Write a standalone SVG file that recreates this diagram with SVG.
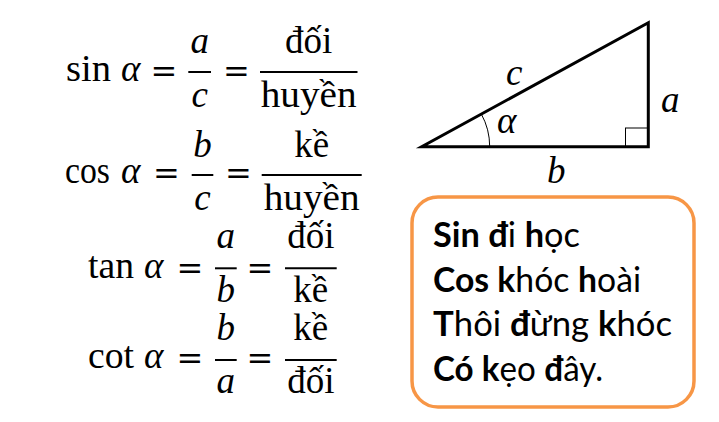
<svg xmlns="http://www.w3.org/2000/svg" width="719" height="422" viewBox="0 0 719 422">
<style>
.m{font-family:"Liberation Serif","DejaVu Serif",serif;font-size:37px;fill:#000}
.i{font-family:"Liberation Serif","DejaVu Serif",serif;font-style:italic;font-size:37px;fill:#000}
.e{font-family:"DejaVu Serif","Liberation Serif",serif;font-size:32px;fill:#000;text-anchor:middle}
.c{text-anchor:middle}
.bar{stroke:#000;stroke-width:2}
.mn{font-family:Lato,"Open Sans",sans-serif;font-size:34px;fill:#000}
.b{font-weight:bold}
</style>
<rect width="719" height="422" fill="#fff"/>

<g id="formula-sin">
<text class="m" x="66" y="81" textLength="45" lengthAdjust="spacingAndGlyphs">sin</text>
<text class="i" x="121" y="81">α</text>
<text class="e" x="164" y="82">=</text>
<text class="i c" x="199.7" y="53.3">a</text>
<line class="bar" x1="188.3" y1="72" x2="211" y2="72"/>
<text class="i c" x="199.7" y="106.7">c</text>
<text class="e" x="236.5" y="82">=</text>
<text class="m c" x="308.7" y="53.3">đối</text>
<line class="bar" x1="260" y1="72" x2="357.5" y2="72"/>
<text class="m c" x="308.7" y="106.7" textLength="96" lengthAdjust="spacingAndGlyphs">huyền</text>
</g>

<g id="formula-cos">
<text class="m" x="65" y="183" textLength="45" lengthAdjust="spacingAndGlyphs">cos</text>
<text class="i" x="121" y="183">α</text>
<text class="e" x="166.5" y="184">=</text>
<text class="i c" x="202.5" y="156.7">b</text>
<line class="bar" x1="191.7" y1="175" x2="213.3" y2="175"/>
<text class="i c" x="202.5" y="210">c</text>
<text class="e" x="238.3" y="184">=</text>
<text class="m c" x="311.7" y="156.7">kề</text>
<line class="bar" x1="261.7" y1="175" x2="361.7" y2="175"/>
<text class="m c" x="311.7" y="210" textLength="96" lengthAdjust="spacingAndGlyphs">huyền</text>
</g>

<g id="formula-tan">
<text class="m" x="88" y="278.3" textLength="46" lengthAdjust="spacingAndGlyphs">tan</text>
<text class="i" x="144" y="278.3">α</text>
<text class="e" x="190" y="279.3">=</text>
<text class="i c" x="225.8" y="248.3">a</text>
<line class="bar" x1="215" y1="268.3" x2="236.7" y2="268.3"/>
<text class="i c" x="225.8" y="301.7">b</text>
<text class="e" x="259.8" y="279.3">=</text>
<text class="m c" x="310.8" y="248.3">đối</text>
<line class="bar" x1="285" y1="268.3" x2="336.7" y2="268.3"/>
<text class="m c" x="310.8" y="301.7">kề</text>
</g>

<g id="formula-cot">
<text class="m" x="88" y="368.3" textLength="46" lengthAdjust="spacingAndGlyphs">cot</text>
<text class="i" x="144" y="368.3">α</text>
<text class="e" x="190" y="369.3">=</text>
<text class="i c" x="225.8" y="340">b</text>
<line class="bar" x1="215" y1="360" x2="236.7" y2="360"/>
<text class="i c" x="225.8" y="393.3">a</text>
<text class="e" x="259.8" y="369.3">=</text>
<text class="m c" x="310.8" y="340">kề</text>
<line class="bar" x1="285" y1="360" x2="336.7" y2="360"/>
<text class="m c" x="310.8" y="393.3">đối</text>
</g>

<g id="triangle">
<polygon points="421.7,146.7 648.3,146.7 648.3,22.7" fill="none" stroke="#000" stroke-width="3" stroke-linejoin="miter" stroke-miterlimit="10"/>
<rect x="625.5" y="128" width="22.8" height="18.7" fill="none" stroke="#000" stroke-width="1"/>
<path d="M489.7,146.7 A68,68 0 0 0 481.3,114" fill="none" stroke="#000" stroke-width="1"/>
<text class="i" x="506" y="85" font-size="34">c</text>
<text class="i" x="661" y="111.7" font-size="34">a</text>
<text class="i" x="497" y="132.7" font-size="24">α</text>
<text class="i" x="547" y="183" font-size="34">b</text>
</g>

<g id="mnemonic">
<rect x="412" y="197" width="282" height="210" rx="26" ry="26" fill="#fff" stroke="#F79646" stroke-width="3.5"/>
<text class="mn" x="433" y="247" textLength="147" lengthAdjust="spacingAndGlyphs"><tspan class="b">Sin đ</tspan>i <tspan class="b">h</tspan>ọc</text>
<text class="mn" x="433" y="291.5" textLength="208" lengthAdjust="spacingAndGlyphs"><tspan class="b">Cos k</tspan>hóc <tspan class="b">h</tspan>oài</text>
<text class="mn" x="433" y="336" textLength="239" lengthAdjust="spacingAndGlyphs"><tspan class="b">T</tspan>hôi <tspan class="b">đ</tspan>ừng <tspan class="b">k</tspan>hóc</text>
<text class="mn" x="433" y="380.5" textLength="170" lengthAdjust="spacingAndGlyphs"><tspan class="b">Có k</tspan>ẹo <tspan class="b">đ</tspan>ây.</text>
</g>
</svg>
